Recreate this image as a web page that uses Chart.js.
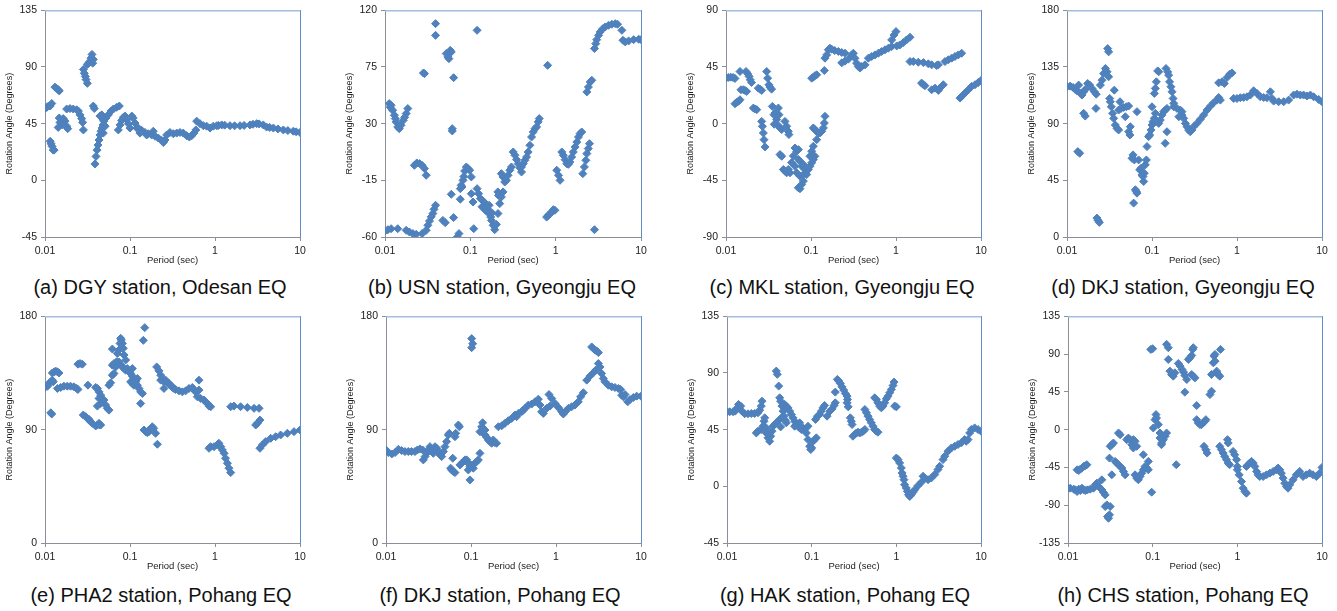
<!DOCTYPE html>
<html>
<head>
<meta charset="utf-8">
<script src="https://cdn.jsdelivr.net/npm/chart.js@4.4.1/dist/chart.umd.min.js"></script>
<style>
  body { margin: 0; background: #fff; width: 1337px; height: 611px; position: relative; overflow: hidden;
         font-family: "Liberation Sans", Arial, sans-serif; }
  canvas { position: absolute; }
  .caption { position: absolute; width: 360px; text-align: center; font-size: 20px; line-height: 24px;
             color: #111; white-space: nowrap; }
</style>
</head>
<body>
<script>
// x axis ticks (period, sec)
const periodTicks = [0.01, 0.1, 1, 10];

// [period (sec), rotation angle (deg)]
const dgyOdesan = [
  [0.01,57],[0.0105,58],[0.011,59],[0.0115,59],[0.012,61],
  [0.0115,31],[0.0118,29],[0.0121,27],[0.0125,24],[0.0128,24],
  [0.0131,74],[0.0137,73],[0.0143,72],[0.0147,71],
  [0.0143,42],[0.015,46],[0.0157,48],[0.0164,49],[0.0172,47],[0.018,43],[0.0185,41],[0.0147,49.5],[0.016,44],
  [0.018,56.6],[0.0197,57],[0.0215,56.6],[0.0236,56],[0.0247,55],[0.0258,52],[0.027,49],[0.0277,46],[0.0283,40],
  [0.0283,88],[0.029,85],[0.0298,82.5],[0.0304,80],[0.0315,77],
  [0.0315,92],[0.0326,93],[0.0338,94.4],[0.0347,97],[0.0357,100],[0.037,96],[0.0364,93],
  [0.037,59],[0.038,57],
  [0.0387,13],[0.0398,19],[0.0409,24],[0.042,28],[0.0432,32],[0.0443,36],[0.0456,39],[0.0469,41.5],[0.0481,44],
  [0.0494,47],[0.0522,49.5],[0.0556,52],[0.0598,55],[0.0637,56.6],[0.0696,58],[0.0749,59],
  [0.0443,51],[0.0465,52],[0.0485,48],[0.051,43],[0.0485,37.5],
  [0.0729,40],[0.0763,44],[0.0798,47.6],[0.0835,50],[0.0874,51],[0.0914,48],[0.0956,45],[0.1,41.5],
  [0.105,51],[0.109,49.5],[0.1145,45.5],[0.12,41.5],
  [0.125,41.5],[0.137,39.7],[0.15,38],[0.164,37],[0.18,36],[0.197,35],[0.215,33.6],[0.236,31.7],[0.247,30],
  [0.258,32],[0.27,36],[0.295,38],[0.323,37],[0.354,37.5],[0.387,38],[0.423,37.5],[0.464,35.4],[0.499,34.4],
  [0.532,35.4],[0.565,37.5],[0.595,40],[0.131,37.5],[0.157,36],[0.188,39],
  [0.609,47],[0.666,45],[0.729,43.4],[0.798,43],[0.874,41.5],[0.957,43],[1.05,43.4],[1.1,43.6],[1.2,44],[1.3,43.8],
  [1.5,43.4],[1.7,43.3],[1.97,43.4],[2.2,43.6],[2.58,44],[2.8,44.5],[3.09,45],[3.3,44.8],[3.7,44],[4.04,42.3],
  [4.4,42],[4.86,41.5],[5.5,40.8],[6.37,40],[7.2,39.5],[8.34,39],[9,38.5],[10,38]
];

const usnGyeongju = [
  [0.01,-55.2],[0.0108,-54.2],[0.0118,-53.4],[0.0141,-53.4],
  [0.0177,-54.7],[0.0193,-56],[0.0212,-57.3],[0.0232,-57.9],
  [0.0272,-57.3],[0.0304,-54.7],[0.0318,-50.7],[0.0332,-47.3],[0.0348,-44],[0.0364,-41.4],[0.0375,-38],[0.0391,-34.8],
  [0.0112,45.9],[0.0118,44.6],[0.0123,40.6],[0.0129,36.7],[0.0135,31.4],[0.0141,27.4],[0.0147,26],[0.0154,28.7],
  [0.0164,32.7],[0.0177,38],[0.0185,42],[0.0115,43],[0.0132,34],[0.017,35],
  [0.0221,-3.1],[0.0236,-1.2],[0.0254,-1.7],[0.0272,-3.1],[0.029,-5.7],[0.0304,-11],
  [0.0282,70.2],[0.029,69.7],
  [0.0391,109.4],[0.0391,100.1],
  [0.0522,85.6],[0.0546,83],[0.0561,81.6],[0.0582,88.2],[0.0598,86.9],
  [0.0637,66.5],[0.0614,26],[0.0614,24.2],
  [0.0598,-26.1],[0.0637,-44.6],[0.0477,-46.8],[0.0508,-48.6],
  [0.0703,-60],[0.0736,-57.3],
  [0.0763,-21.6],[0.0798,-20.3],[0.082,-15],[0.0858,-7.6],[0.0897,-4.4],[0.0939,-5.7],[0.0982,-7],[0.1027,-12.3],
  [0.078,-19],[0.084,-12],
  [0.0763,-30],[0.1027,-25.6],[0.1075,-32.2],[0.1096,-53.4],
  [0.12,104.1],
  [0.12,-21.6],[0.125,-25.6],[0.131,-29.5],[0.1385,-30.9],[0.145,-32.2],[0.151,-34.8],[0.1585,-37.5],[0.166,-41.5],[0.1735,-44.2],
  [0.137,-36],[0.15,-38.8],[0.166,-34.8],[0.18,-40.9],
  [0.177,-46.8],[0.185,-50.7],[0.193,-54.2],[0.202,-50],[0.211,-41.4],[0.221,-33.5],[0.231,-28.2],[0.242,-24.2],
  [0.21,-24.2],[0.214,-27],
  [0.231,-9.7],[0.242,-12.3],[0.253,-16.3],[0.265,-15],[0.277,-11],[0.29,-7],[0.303,-4.4],
  [0.318,7.5],[0.333,4.9],[0.348,1.4],[0.364,-1.8],[0.38,-5],[0.398,-8.4],
  [0.398,-4.4],[0.417,-1.8],[0.436,0.9],[0.456,3.5],[0.476,7.5],[0.499,12.8],[0.522,19.4],[0.546,23.4],
  [0.571,26],[0.597,27.4],[0.624,31.4],[0.642,34],
  [0.783,-44.2],[0.82,-42.8],[0.858,-41.5],[0.898,-40.1],[0.939,-38.3],[0.98,-38.8],
  [0.805,76.3],
  [1.03,-7],[1.08,-11],[1.125,-15],
  [1.18,7.5],[1.23,4.9],[1.29,1.4],[1.35,-1.8],[1.41,-2.3],[1.47,-0.4],[1.54,3.5],[1.61,7.5],[1.69,11.5],
  [1.77,15.4],[1.85,19.4],[1.93,22.1],[2.02,23.4],
  [2.08,-9.7],[2.17,-4.4],[2.26,0.9],[2.32,6.2],[2.41,10.2],[2.49,14.1],
  [2.32,55.2],[2.42,59.1],[2.54,63.1],[2.65,64.4],
  [2.85,-54.2],
  [2.85,89.6],[2.95,93.5],[3.03,96.7],[3.18,100.1],[3.32,102.8],[3.57,105.4],[3.81,106.8],[4.17,108.1],
  [4.56,108.9],[4.99,109.4],[5.31,108.9],
  [5.97,104.1],
  [6.14,96.2],[6.54,94.9],[7.16,95.7],[8.2,96.7],[9.39,97],[10,96.7]
];

const mklGyeongju = [
  [0.01,36.1],[0.01065,36.7],[0.01135,36.9],[0.0121,36.7],[0.01276,35.9],
  [0.01276,15.8],[0.01335,16.9],[0.014,17.7],[0.0146,19],
  [0.0146,41.4],
  [0.015,26.9],[0.016,26.9],[0.0167,26.4],[0.0175,25.6],
  [0.0172,41.4],[0.018,39.6],[0.0187,37.5],[0.0193,34.8],[0.02,32.7],
  [0.021,12.4],[0.0219,11.6],[0.023,11.1],
  [0.024,28.2],[0.0251,27.4],[0.0263,26.4],
  [0.0263,1.8],[0.0268,-2.1],[0.0275,-7.4],[0.028,-12.7],[0.0288,-18.5],
  [0.0301,41.4],[0.0309,36.1],[0.032,30.9],[0.0329,29],[0.0344,27.4],
  [0.0351,13.7],[0.0367,7.1],[0.0377,8.4],[0.0395,3.2],[0.0413,-1.6],[0.0432,-3.4],[0.0452,-4.7],
  [0.0413,12.4],[0.042,7.1],[0.037,-0.5],
  [0.0432,-24.5],[0.0452,-25.9],[0.0473,-36.4],[0.0494,-37.7],[0.0517,-39],[0.0541,-36.4],[0.0566,-39],
  [0.0592,-30.9],[0.062,-25.6],[0.0648,-19.3],
  [0.0494,1.8],[0.0517,-2.1],[0.0541,-6.1],[0.055,-8.7],
  [0.0678,-21.9],[0.071,-20.6],[0.0742,-29.8],[0.0777,-33.8],[0.0813,-32.5],[0.0851,-36.4],[0.0889,-40.4],
  [0.093,-36.4],[0.0973,-33.8],[0.1018,-31.1],[0.1065,-28.5],[0.111,-25.9],
  [0.071,-50.9],[0.0742,-51.7],[0.0777,-48.3],[0.0813,-45.6],
  [0.071,-28.5],[0.0742,-41.7],[0.0813,-40.4],[0.0678,-39],[0.0648,-33.8],
  [0.0973,-25.9],[0.1018,-21.9],[0.1065,-17.9],
  [0.1065,-3.4],[0.111,-4.7],[0.1166,-6.1],[0.122,-7.4],[0.1275,-7.4],[0.1335,-6.1],[0.14,-3.4],[0.1435,0.5],[0.146,5.8],
  [0.1166,-12.7],
  [0.1018,36.1],[0.1065,36.9],[0.111,38],[0.1166,38.8],
  [0.1435,42.2],
  [0.146,52],[0.153,54.6],[0.16,58.6],[0.167,59.9],[0.175,59.1],
  [0.19,58],[0.21,57.3],[0.23,56.5],[0.251,55.9],
  [0.23,48.3],[0.251,49.6],[0.275,51.2],[0.301,54.6],[0.315,55.9],[0.329,51.9],[0.344,48],[0.36,45.4],
  [0.377,44.1],[0.394,45.4],[0.432,46.7],[0.473,52],[0.517,53.3],[0.566,54.6],[0.62,55.9],[0.678,57.3],
  [0.742,58.6],[0.812,59.9],[0.889,61.2],
  [0.889,66.5],[0.947,70.4],[1.0,73.1],
  [1.02,61.7],[1.11,62.5],[1.22,64.4],[1.33,66.5],[1.46,68.6],
  [1.46,49.3],[1.6,49.3],[1.83,48.8],[2.1,48.5],[2.4,47.5],[2.63,46.7],[3.01,46.2],[3.15,46.7],
  [2.0,32.2],[2.1,30.9],[2.19,30.1],
  [2.63,26.9],[2.88,28.2],[3.15,26.4],[3.44,29.6],[3.6,30.9],
  [3.77,49.3],[4.13,50.7],[4.52,52],[4.94,53.3],[5.41,54.6],[5.92,55.9],
  [5.66,20.3],[5.92,21.6],[6.48,24.3],[7.1,26.9],[7.76,29.6],[8.5,30.9],[9.3,32.7],[10,34.3]
];

const dkjGyeongju = [
  [0.01,119.3],[0.0109,119.8],[0.0118,118.7],[0.0125,117.2],[0.0131,116.1],[0.0137,120.6],[0.0144,114],
  [0.015,112.7],[0.0157,115.3],[0.0164,117.2],[0.0175,121.9],[0.0185,120.6],[0.0197,117.9],[0.021,115.3],[0.0221,113.4],
  [0.0134,67.8],[0.0141,66.5],
  [0.0157,98.2],[0.0164,96],
  [0.0219,102.1],
  [0.0225,15],[0.0232,13.2],[0.024,11.6],
  [0.0247,120.6],[0.0258,124.5],[0.027,129.8],[0.0283,133.8],[0.0296,131.2],[0.0309,127.2],[0.0301,149.6],[0.0309,147],
  [0.0318,110],[0.0323,107.4],[0.0332,103.4],[0.0344,98.2],[0.0354,94.2],[0.037,88.9],[0.0387,86.3],[0.0405,85],
  [0.036,116.6],
  [0.0405,100.8],[0.0432,102.1],[0.0464,102.9],[0.0499,103.4],[0.0531,104],[0.042,107.4],[0.0485,95.5],[0.0531,83.6],[0.055,81],
  [0.0556,87.6],[0.0582,62.5],[0.0598,65.2],[0.062,61.2],
  [0.0608,26.9],[0.0637,37.5],[0.0654,36.1],[0.0666,34.8],
  [0.0666,99.5],
  [0.0696,61.2],[0.0716,53.3],[0.0743,54.6],[0.0763,49.3],[0.0784,48],[0.0798,44.1],[0.0812,50.7],[0.0835,57.3],[0.0858,61.2],[0.0874,71.8],
  [0.0914,79.7],[0.0939,81],[0.0973,85],[0.1,88.9],[0.1027,91.6],[0.1065,94.2],[0.1094,98.2],
  [0.1,103.4],[0.1065,114],[0.1094,118],[0.1125,123.2],[0.1166,131.9],[0.12,131.2],
  [0.12,90.2],[0.1253,92.9],[0.131,96.8],[0.137,99.5],[0.143,100.8],[0.15,102.1],
  [0.143,74.4],[0.15,83.6],
  [0.146,133.8],[0.153,131.1],[0.157,128.5],[0.161,123.2],[0.167,119.3],[0.172,115.3],[0.177,110],[0.18,106.1],
  [0.18,103.4],[0.197,102.1],[0.215,100.8],[0.225,96.8],[0.236,94.2],[0.247,90.2],[0.258,87.6],[0.27,84.9],
  [0.282,83.6],[0.295,84.9],[0.309,87.6],[0.338,90.2],[0.37,93.4],[0.405,96.8],[0.444,100.8],[0.485,103.9],
  [0.531,106.6],[0.582,108.7],[0.609,110.8],[0.637,108.7],
  [0.207,95.5],[0.225,99.5],
  [0.609,122.4],[0.666,123.2],[0.71,121.9],[0.763,126.6],[0.82,129.3],[0.874,130.3],
  [0.914,110],[1.0,110],[1.094,110.6],[1.2,110.8],[1.31,111.3],[1.435,112.7],[1.57,116.1],[1.72,114],[1.88,111.3],
  [2.06,110.8],[2.25,110.6],[2.47,115.3],[2.58,110],[2.7,107.9],[3.09,107.4],[3.54,107.4],[4.05,108.7],[4.64,112.7],
  [5.08,113.4],[5.56,112.7],[6.08,112.7],[6.66,111.9],[7.29,112.7],[7.98,111.3],[9.14,109.2],[10,107.4]
];

const pha2Pohang = [
  [0.01,123.5],[0.0107,124.5],[0.0111,126.6],[0.0117,128],[0.0122,129.3],[0.0125,128],
  [0.0117,103.4],[0.012,102.4],
  [0.0122,135],[0.0128,135.9],[0.0134,136.4],[0.014,135.9],[0.0146,135],
  [0.014,122.7],[0.0153,123.5],[0.0167,124.5],[0.0183,124.5],[0.02,124.5],[0.0219,124],[0.0236,122.7],[0.0244,121.9],
  [0.0244,142],[0.0258,142.5],[0.0275,142],
  [0.0282,101.6],[0.0301,100.3],[0.0315,98.9],[0.0329,98.2],[0.0344,96.3],[0.036,95],[0.0395,92.9],[0.0413,93.7],
  [0.0432,95],[0.0452,93.7],[0.044,93.7],
  [0.032,125.3],
  [0.0395,123.5],[0.0413,122.7],[0.0432,120],[0.0452,117.4],[0.0473,113.5],[0.0494,113.5],[0.0517,109.5],
  [0.0541,106.9],[0.0566,105.5],[0.0432,114.8],[0.0413,108.7],[0.0452,110.8],
  [0.0566,125.3],[0.0592,127.2],[0.062,133.2],[0.0648,134.6],[0.0678,141.2],[0.0696,143.9],[0.071,150.5],
  [0.0742,153.2],[0.0763,158.5],[0.0777,162.5],[0.079,161.2],[0.0813,158.5],[0.0835,154.6],[0.0851,149.3],[0.0889,145.3],[0.062,154],
  [0.062,141.2],[0.0648,142.5],[0.0678,139.8],
  [0.0742,143.8],[0.079,141.2],[0.0813,139.8],[0.0851,138.5],[0.0889,137.2],[0.093,138.5],[0.0973,135.9],[0.1018,134.6],
  [0.1065,132.5],[0.111,130.6],[0.1166,128],[0.122,125.3],[0.1275,122.7],[0.1335,120],[0.14,118.7],
  [0.1018,128],[0.1065,126.6],[0.111,125.3],[0.1166,129.3],[0.122,130.6],[0.1065,138.5],
  [0.1335,110.8],
  [0.1435,160.9],[0.149,171],
  [0.146,89.7],[0.153,88.4],[0.16,87.6],[0.167,88.4],[0.175,91],[0.183,92.3],[0.19,91],[0.2,87.1],[0.21,78.4],
  [0.206,139.8],[0.219,136.7],[0.23,133.2],[0.24,130.6],[0.251,128],[0.263,129.3],[0.275,127.2],[0.288,126.6],
  [0.301,125.3],[0.315,123.5],[0.329,122.7],[0.344,121.9],[0.377,120.8],[0.413,120],[0.452,120.8],[0.494,122.7],
  [0.541,123.5],[0.566,121.4],[0.592,120],[0.648,121.4],[0.251,122.7],[0.23,129.3],
  [0.648,129.3],
  [0.62,116.1],[0.678,114.8],[0.742,113.5],[0.776,112.1],[0.812,110.8],[0.85,108.7],[0.889,108.2],
  [0.85,75.2],[0.889,76.5],[0.973,76.5],[1.065,77.8],[1.11,79.2],[1.17,76.5],[1.22,73.9],[1.28,71.2],[1.33,67.3],
  [1.4,63.3],[1.46,59.4],[1.53,55.9],
  [1.53,108.2],[1.67,108.7],[2.0,108.2],[2.4,107.6],[2.88,106.9],[3.3,106.9],
  [3.01,93.7],[3.15,95],[3.38,97.6],
  [3.38,75.2],[3.6,77.8],[3.95,80.5],[4.52,83.1],[5.17,84.4],[5.92,85.8],[7.1,87.1],[8.5,88.4],[10,89.7]
];

const dkjPohang = [
  [0.01,73.9],[0.01065,71.8],[0.0117,70.7],[0.0128,71.8],[0.014,74.4],[0.0153,73.4],[0.0167,72.6],[0.0183,72.6],
  [0.02,72.6],[0.0219,72.6],[0.0234,73.9],[0.0251,74.7],[0.027,73.9],
  [0.0275,66],[0.0288,68.6],[0.0301,71.2],[0.0315,73.9],[0.0329,76.5],[0.0344,73.9],[0.036,71.2],[0.0377,76.5],
  [0.0395,75.2],[0.0413,72.6],[0.0432,69.9],[0.0452,68.6],[0.0473,72.6],[0.0494,76.5],[0.0517,80.5],[0.0541,85.8],[0.0556,87.1],
  [0.0576,59.4],[0.0592,58],[0.062,56.7],[0.0648,55.9],
  [0.061,67.3],[0.0648,84.4],[0.066,87.1],[0.071,93.7],[0.073,92.3],
  [0.0742,62],[0.0777,63.3],[0.0813,64.6],[0.0851,66],[0.0889,66],[0.093,63.3],[0.0973,60.7],[0.1018,62],
  [0.1065,59.4],[0.111,63.3],[0.1166,64.6],[0.122,66],[0.1275,71.2],
  [0.093,58],[0.0973,50.1],
  [0.1018,162.3],[0.1046,158.3],[0.1018,155.1],
  [0.1275,88.4],[0.1335,92.3],[0.137,95.5],[0.14,87.1],[0.146,85.8],[0.153,83.9],[0.16,81.8],[0.167,80.5],
  [0.175,79.2],[0.183,81.8],[0.19,79.7],[0.2,79.2],[0.1335,88.4],[0.14,91],[0.146,89.7],
  [0.21,92.3],[0.23,93.1],[0.251,95],[0.275,97.1],[0.301,98.9],[0.329,101.6],[0.36,102.9],[0.394,104.2],
  [0.432,106.9],[0.473,109.5],[0.517,110.3],[0.566,112.1],[0.62,114.2],[0.344,100.3],[0.413,105.5],
  [0.648,109.5],[0.678,104.2],[0.709,102.9],[0.776,106.9],[0.85,108.7],
  [0.827,117.9],
  [0.889,114.8],[0.973,110.8],[1.065,107.6],[1.17,104.2],[1.22,102.4],[1.28,104.2],[1.4,106.9],[1.53,108.2],
  [1.67,109.5],[1.83,112.1],[1.95,116.1],[2.1,119.3],
  [2.3,129.3],[2.51,132.5],[2.75,135.1],[2.93,137.2],
  [2.63,155.7],[2.75,154.4],[2.88,153.2],[3.01,152.5],[3.15,151.2],
  [3.15,142.5],[3.3,139.8],[3.44,134.6],[3.6,130.6],[3.77,128],[4.13,125.3],[4.52,124],[4.94,123.5],[5.41,122.7],[5.76,121.9],
  [5.92,117.4],[6.2,116.1],[6.48,117.9],[6.97,112.1],[7.42,113.9],[8.13,115.5],[8.89,116.6],[10,116.6]
];

const hakPohang = [
  [0.01,59.2],[0.01075,59.2],[0.0118,59.2],[0.0125,59.7],[0.01325,62.3],[0.0137,65],[0.0145,63.7],[0.015,59.7],
  [0.0162,57.6],[0.0177,57.6],[0.0194,57.8],[0.0212,57.8],[0.0232,58.4],[0.0243,60.5],[0.0254,63.7],[0.0259,67.6],
  [0.0222,42.4],[0.0232,43.8],
  [0.0254,45.1],[0.0266,47.7],[0.0274,51.7],[0.0279,54.4],[0.0291,42.4],[0.0305,38.5],[0.0319,35.8],[0.0328,39.8],
  [0.034,43.8],[0.0349,47.7],[0.0366,49.1],[0.0382,50.4],[0.0291,46.4],[0.031,42.4],
  [0.0382,91.5],[0.0393,88.9],[0.0408,79.6],[0.0419,70.3],[0.043,67.6],[0.0446,63.7],[0.0459,59.7],[0.0471,55.7],
  [0.0489,52.5],[0.0502,50.4],
  [0.0419,53.1],[0.044,54.4],[0.043,47.2],
  [0.048,65],[0.0502,63.7],[0.0525,62.3],[0.055,59.7],[0.0575,57],[0.0602,54.4],[0.063,51.7],[0.0659,49.1],
  [0.069,47.7],[0.0721,46.4],[0.0755,45.1],[0.079,46.4],[0.0827,45.1],[0.0865,42.4],[0.0905,37.1],[0.0947,31.8],
  [0.0975,29.2],[0.1,30.5],[0.104,35.8],[0.1085,37.1],[0.1135,38.5],
  [0.063,47.7],[0.0721,50.4],[0.0905,47.7],
  [0.111,53.1],[0.117,55.7],[0.124,57],[0.13,59.7],[0.136,62.3],[0.142,64.2],
  [0.152,55.7],[0.164,59.7],[0.174,61.5],[0.184,64.2],[0.19,66.3],
  [0.19,74.8],[0.201,84.9],[0.209,83.6],[0.218,81.7],[0.228,79],[0.239,76.4],[0.25,73.7],[0.262,71.6],[0.265,69],
  [0.262,66.3],[0.27,63.1],
  [0.286,54.4],[0.294,51.7],[0.3,49.1],
  [0.307,39.8],[0.322,41.1],[0.338,42.4],[0.353,43],[0.37,42.4],[0.388,43],[0.407,43.8],[0.425,45.1],
  [0.425,61],[0.444,58.4],[0.463,55.7],[0.484,53.1],[0.507,50.4],[0.53,47.7],[0.555,45.1],[0.58,43.8],[0.607,43],
  [0.555,70.3],[0.58,69],[0.607,66.3],[0.635,63.7],[0.665,62.3],[0.696,63.7],[0.728,66.3],[0.762,69.5],[0.797,71.6],
  [0.834,74.3],[0.873,76.9],[0.914,80.1],[0.94,82.8],
  [0.956,63.7],[1.0,63.1],
  [1.0,22.5],[1.047,21.2],[1.094,18.6],[1.145,14.6],[1.17,10.6],[1.2,8],[1.23,5.3],[1.25,1.3],[1.31,-1.3],[1.35,-4],
  [1.39,-6.6],[1.44,-8],[1.5,-6.6],[1.57,-4.8],[1.65,-2.7],[1.8,0.5],[1.97,3.2],
  [2.07,8],[2.16,6.6],[2.37,5.3],[2.59,6.6],[2.84,9.3],[3.1,13.3],[3.25,15.9],[3.56,21.2],[3.73,23.9],[4.08,27.9],
  [4.47,30.5],[4.89,31.8],[5.35,33.2],[5.86,34.5],[6.41,37.1],[6.7,35.8],[7.02,37.1],[7.35,42.4],[7.69,45.1],
  [8.41,46.4],[9.22,45.1],[10,43.8]
];

const chsPohang = [
  [0.01,-69.7],[0.01065,-69.7],[0.0117,-70.9],[0.0122,-71.7],[0.0128,-73.7],[0.0134,-70.9],[0.014,-72.5],[0.0146,-69.7],
  [0.0153,-71.7],[0.016,-72.5],[0.017,-71.7],[0.0183,-70.9],[0.02,-69.7],[0.021,-65.7],[0.0219,-63.7],[0.023,-67.7],
  [0.024,-69.7],[0.0251,-71.7],[0.0263,-74.9],[0.0275,-77.7],
  [0.0128,-47.8],[0.0134,-48.6],[0.014,-47],[0.0146,-45.8],[0.0153,-43.8],[0.016,-43],[0.0167,-41.8],
  [0.0251,-59.7],
  [0.0275,-91.6],[0.0288,-89.6],[0.0293,-103.5],[0.0301,-105.5],[0.0309,-101.5],[0.0315,-91.6],
  [0.0309,-33.9],[0.0315,-19.9],[0.0329,-17.9],[0.0344,-15.9],
  [0.0329,-53.8],
  [0.036,-37.8],[0.0377,-39.8],[0.0395,-41.8],[0.0413,-43.8],[0.0432,-45.8],[0.0452,-49.8],[0.0473,-53.8],
  [0.0395,-4],[0.0413,-6],
  [0.0494,-11.9],[0.0517,-10],[0.0541,-11.9],[0.0566,-17.9],[0.0592,-21.9],[0.0592,-11.9],[0.062,-13.9],[0.0648,-19.9],
  [0.062,-53.8],[0.0648,-57.7],[0.0678,-59.7],[0.071,-55.8],[0.0742,-51.8],[0.0777,-47.8],[0.0813,-43.8],[0.0851,-45.8],[0.0889,-47.8],
  [0.0777,-29.9],[0.0889,-37.8],
  [0.0973,-74.5],[0.095,95.6],[0.1,96.4],
  [0.1018,2],[0.1065,11.9],[0.1094,17.9],[0.111,13.9],[0.1166,6],[0.122,-4],[0.1275,-15.9],[0.1335,-11.9],[0.14,-8],
  [0.146,-4],[0.122,-10],[0.127,-17.9],
  [0.146,101.6],[0.153,97.6],
  [0.153,83.6],[0.16,69.7],[0.167,65.7],[0.175,63.7],[0.183,67.7],
  [0.19,-41.8],
  [0.201,78.8],[0.211,75.7],[0.222,71.7],[0.232,68.5],[0.24,64.5],[0.253,59.7],
  [0.24,44.6],
  [0.264,83.6],[0.276,85.6],[0.289,88.4],[0.297,95.6],[0.302,97.6],
  [0.289,65.7],[0.302,63.7],[0.316,61.7],
  [0.331,28.7],
  [0.331,11.9],[0.346,8],[0.362,6],[0.378,6],[0.395,8],[0.414,10],[0.425,11.9],
  [0.404,-19.9],[0.425,-23.9],[0.44,-27.9],
  [0.475,41.8],[0.496,45.8],
  [0.496,65.7],[0.52,79.6],[0.53,87.6],[0.545,89.6],[0.57,67.7],[0.593,65.7],[0.62,63.7],[0.633,95.6],[0.57,69.7],[0.545,81.6],
  [0.62,-19.9],[0.65,-23.9],[0.68,-27.9],[0.71,-31.9],[0.745,-35.8],[0.78,-39.8],[0.81,-41.8],
  [0.765,-11.9],[0.78,-15.9],
  [0.89,-25.9],[0.93,-29.9],[0.98,-35.8],[1.0,-43.8],
  [1.0,-47.8],[1.05,-53.8],[1.12,-61.7],[1.17,-69.7],[1.23,-73.7],[1.28,-75.7],
  [1.28,-43.8],[1.34,-41.8],[1.4,-39.8],[1.47,-37.8],[1.54,-39.8],[1.61,-43.8],[1.69,-49.8],[1.76,-53.8],[1.84,-55.8],
  [2.02,-55.8],[2.21,-53.8],[2.42,-51.8],[2.65,-49.8],[2.9,-47.8],[3.03,-45.8],[3.17,-47.8],[3.31,-51.8],[3.47,-57.7],
  [3.63,-63.7],[3.8,-67.7],[3.97,-69.7],[4.16,-65.7],[4.55,-59.7],[4.98,-53.8],[5.45,-49.8],[5.97,-55.8],[6.53,-53.8],
  [7.15,-51.8],[7.83,-53.8],[8.57,-55.8],[9.38,-51.8],[10,-45]
];

const stations = [dgyOdesan, usnGyeongju, mklGyeongju, dkjGyeongju, pha2Pohang, dkjPohang, hakPohang, chsPohang];
const captions = [
  '(a) DGY station, Odesan EQ', '(b) USN station, Gyeongju EQ', '(c) MKL station, Gyeongju EQ', '(d) DKJ station, Gyeongju EQ',
  '(e) PHA2 station, Pohang EQ', '(f) DKJ station, Pohang EQ', '(g) HAK station, Pohang EQ', '(h) CHS station, Pohang EQ'
];
const yMin = [-45, -60, -90, 0, 0, 0, -45, -135];
const yMax = [135, 120, 90, 180, 180, 180, 135, 135];
const yStep = [45, 45, 45, 45, 90, 90, 45, 45];

// page layout (plot area edges in px)
const plotLeft = [45, 385, 726, 1067, 45, 386, 727, 1068];
const plotRight = [300, 641, 981, 1322, 300, 641, 981, 1322];
const plotTop = [10, 10, 10, 10, 316, 316, 316, 316];
const plotHeight = 227;
const captionX = [160, 502, 842, 1183, 161, 500, 845, 1183];
const captionTop = [275, 275, 275, 275, 583, 583, 583, 583];

Chart.defaults.font.family = '"Liberation Sans", Arial, sans-serif';

// light blue top and right edge of the plot area, like the Excel frame
const frame = {
  id: 'frame',
  afterDraw(chart) {
    const a = chart.chartArea, ctx = chart.ctx;
    ctx.save();
    ctx.strokeStyle = '#a4bedf';
    ctx.lineWidth = 1.5;
    ctx.beginPath();
    ctx.moveTo(a.left, a.top + 0.5);
    ctx.lineTo(a.right + 1, a.top + 0.5);
    ctx.stroke();
    ctx.strokeStyle = '#5d8cc7';
    ctx.lineWidth = 1;
    ctx.beginPath();
    ctx.moveTo(a.right + 0.5, a.top);
    ctx.lineTo(a.right + 0.5, a.bottom);
    ctx.stroke();
    ctx.restore();
  }
};

stations.forEach((points, i) => {
  const canvas = document.createElement('canvas');
  const w = plotRight[i] - plotLeft[i] + 45 + 12;
  const h = 10 + plotHeight + 30;
  canvas.width = w;
  canvas.height = h;
  canvas.style.left = (plotLeft[i] - 45) + 'px';
  canvas.style.top = (plotTop[i] - 10) + 'px';
  document.body.appendChild(canvas);

  new Chart(canvas, {
    type: 'scatter',
    data: {
      datasets: [{
        data: points.map(p => ({ x: p[0], y: p[1] })),
        pointStyle: 'rectRot',
        pointRadius: 4,
        backgroundColor: '#4f81bd',
        borderColor: '#4f81bd',
        borderWidth: 1
      }]
    },
    options: {
      responsive: false,
      animation: false,
      devicePixelRatio: 1,
      layout: { padding: { top: 10, right: 12, left: 0, bottom: 0 } },
      plugins: { legend: { display: false }, tooltip: { enabled: false } },
      scales: {
        x: {
          type: 'logarithmic',
          min: 0.01,
          max: 10,
          afterBuildTicks: s => { s.ticks = periodTicks.map(v => ({ value: v })); },
          afterFit: s => { s.height = 30; },
          ticks: { callback: v => String(v), autoSkip: false, maxRotation: 0, padding: 4, color: '#222', font: { size: 10.5 } },
          grid: { drawOnChartArea: false, tickLength: 4, color: '#8a8f98' },
          border: { color: '#8a8f98' },
          title: { display: true, text: 'Period (sec)', color: '#222', font: { size: 9.5 }, padding: { top: 0, bottom: 1 } }
        },
        y: {
          min: yMin[i],
          max: yMax[i],
          afterFit: s => { s.width = 45; },
          ticks: { stepSize: yStep[i], padding: 4, color: '#222', font: { size: 10.5 } },
          grid: { drawOnChartArea: false, tickLength: 4, color: '#8a8f98' },
          border: { color: '#8a8f98' },
          title: { display: true, text: 'Rotation Angle (Degrees)', color: '#222', font: { size: 9 }, padding: { top: 4, bottom: 0 } }
        }
      }
    },
    plugins: [frame]
  });

  const cap = document.createElement('div');
  cap.className = 'caption';
  cap.textContent = captions[i];
  cap.style.left = (captionX[i] - 180) + 'px';
  cap.style.top = captionTop[i] + 'px';
  document.body.appendChild(cap);
});
</script>
</body>
</html>
